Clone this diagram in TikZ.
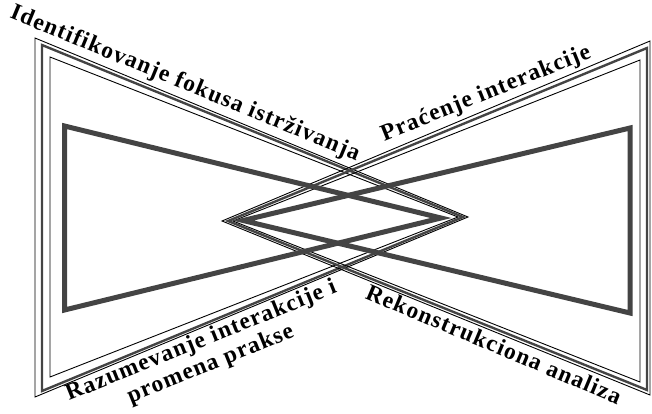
\documentclass[tikz,border=0pt]{standalone}
\usepackage{fontspec}
\setmainfont{Liberation Serif}
\definecolor{bowgray}{HTML}{444444}
\begin{document}
\begin{tikzpicture}[x=1pt,y=-1pt,
    thinline/.style={line width=0.9pt},
    midline/.style={line width=2.4pt, bowgray},
    thickline/.style={line width=5pt, bowgray},
    stagelabel/.style={font=\fontsize{23.5}{25}\selectfont\bfseries\addfontfeatures{LetterSpace=5}, inner sep=0pt}]
  \useasboundingbox (0,0) rectangle (652,413);
  % left frame, three lines
  \draw[thinline] (35,38) -- (35,397) -- (468,217) -- cycle;
  \draw[midline] (42,45) -- (42,391) -- (463,217) -- cycle;
  \draw[thinline] (50,57) -- (50,377) -- (458,217) -- cycle;
  % right frame, three lines
  \draw[thinline] (650,41) -- (650,395) -- (222,221) -- cycle;
  \draw[midline] (647,48) -- (647,390) -- (228,221) -- cycle;
  \draw[thinline] (640,60) -- (640,382) -- (233,221) -- cycle;
  % inner thick triangles
  \draw[thickline] (64.5,126) -- (64.5,310) -- (441,218) -- cycle;
  \draw[thickline] (630,128) -- (630,313) -- (243,220.5) -- cycle;
  % labels
  \node[stagelabel, rotate=-22.4] (focus) at (185,84) {Identifikovanje fokusa istrživanja};
  \node[stagelabel, rotate=22] (tracking) at (486,94) {Praćenje interakcije};
  \node[stagelabel, rotate=22, align=center] (understanding) at (206,353) {Razumevanje interakcije i\\promena prakse};
  \node[stagelabel, rotate=-22.8] (reconstruction) at (494,344) {Rekonstrukciona analiza};
\end{tikzpicture}
\end{document}
